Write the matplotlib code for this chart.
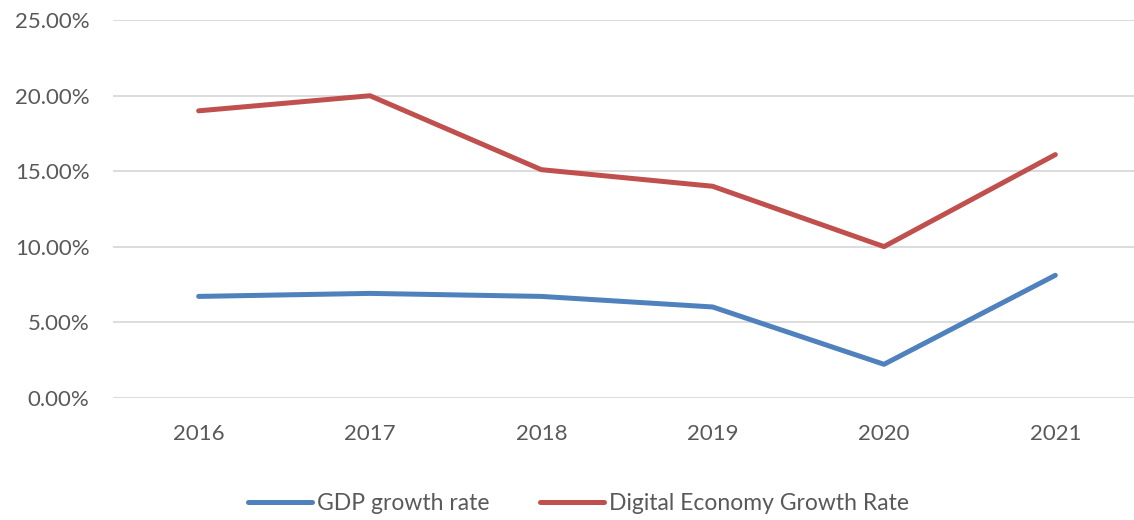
import matplotlib
matplotlib.use("Agg")
import matplotlib.pyplot as plt
from matplotlib.ticker import FuncFormatter, MultipleLocator

years = ["2016", "2017", "2018", "2019", "2020", "2021"]
gdp_growth = [6.7, 6.9, 6.7, 6.0, 2.2, 8.1]
digital_growth = [19.0, 20.0, 15.1, 14.0, 10.0, 16.1]

plt.rcParams["font.family"] = ["Lato", "DejaVu Sans"]
text_color = "#595959"

fig = plt.figure(figsize=(11.34, 5.2), dpi=100)
ax = fig.add_axes([113 / 1134, 1 - 397.5 / 520, (1141 - 113) / 1134, (397.5 - 20.3) / 520])

x = list(range(len(years)))
ax.plot(x, gdp_growth, color="#4F81BD", lw=3.6, solid_capstyle="round",
        solid_joinstyle="round", label="GDP growth rate")
ax.plot(x, digital_growth, color="#C0504D", lw=3.6, solid_capstyle="round",
        solid_joinstyle="round", label="Digital Economy Growth Rate")

ax.set_xlim(-0.5, len(years) - 0.5)
ax.set_ylim(0, 25)
ax.yaxis.set_major_locator(MultipleLocator(5))
ax.yaxis.set_major_formatter(FuncFormatter(lambda v, _: f"{v:.2f}%"))
ax.set_xticks(x)
ax.set_xticklabels(years)
ax.grid(axis="y", color="#d9d9d9", lw=1.3)
ax.set_axisbelow(True)
for s in ax.spines.values():
    s.set_visible(False)
ax.tick_params(axis="both", length=0, labelsize=16, colors=text_color)
ax.tick_params(axis="y", pad=17)
ax.tick_params(axis="x", pad=19)

leg = fig.legend(loc="center", bbox_to_anchor=(0.51, 1 - 504 / 520), ncol=2,
                 frameon=False, fontsize=16.5, handlelength=2.8, handletextpad=0.2,
                 columnspacing=2.2)
for t in leg.get_texts():
    t.set_color(text_color)

fig.savefig("out.png", dpi=100)
